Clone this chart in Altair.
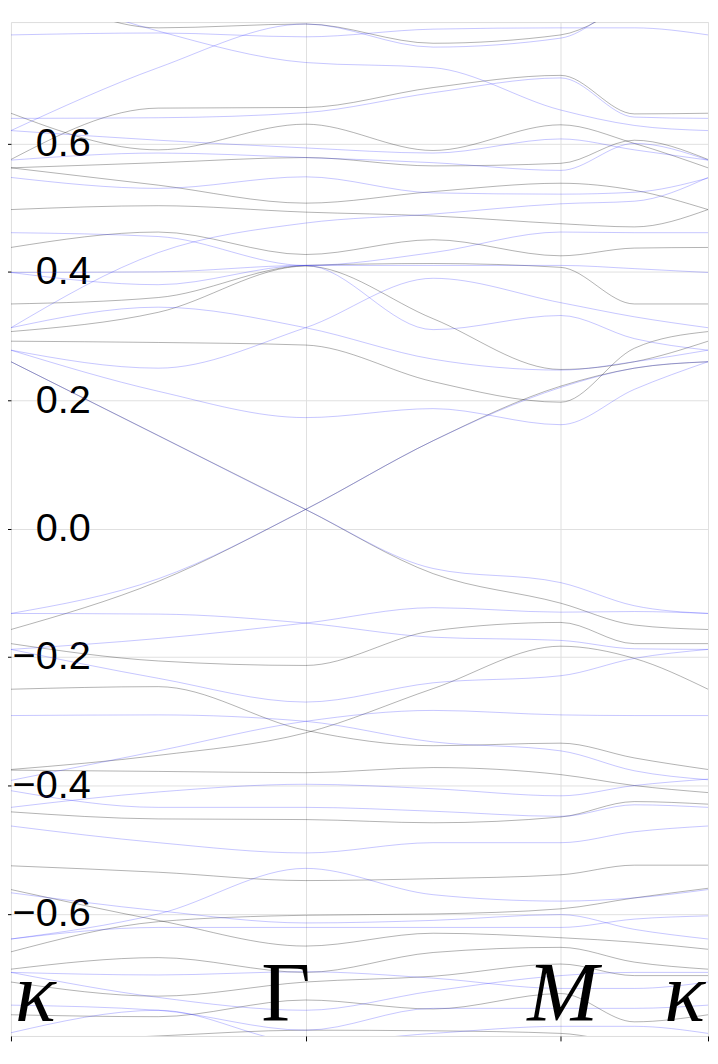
import altair as alt
import pandas as pd

# k-path sample points: kappa, mid(kappa-Gamma), Gamma, mid(Gamma-M), M, mid(M-kappa), kappa
K_PATH = [0.0, 0.5, 1.0, 1.433, 1.866, 2.116, 2.366]

# energies at the K_PATH points
BLACK_BANDS = [
    [0.86, 0.78, 0.786, 0.756, 0.769, 0.82, 0.86],
    [0.575, 0.655, 0.656, 0.687, 0.706, 0.646, 0.647],
    [0.647, 0.59, 0.630, 0.589, 0.629, 0.60, 0.562],
    [0.562, 0.57, 0.578, 0.565, 0.569, 0.605, 0.575],
    [0.562, 0.535, 0.507, 0.525, 0.538, 0.527, 0.497],
    [0.497, 0.503, 0.493, 0.487, 0.475, 0.47, 0.497],
    [0.438, 0.462, 0.427, 0.45, 0.425, 0.437, 0.438],
    [0.350, 0.36, 0.41, 0.413, 0.407, 0.35, 0.350],
    [0.307, 0.337, 0.409, 0.327, 0.248, 0.26, 0.292],
    [0.292, 0.29, 0.286, 0.229, 0.197, 0.281, 0.307],
    [0.260, 0.145, 0.030, -0.07, -0.116, -0.150, -0.157],
    [-0.157, -0.082, 0.030, 0.137, 0.222, 0.25, 0.260],
    [-0.179, -0.206, -0.213, -0.159, -0.146, -0.179, -0.179],
    [-0.250, -0.246, -0.314, -0.338, -0.334, -0.357, -0.375],
    [-0.375, -0.353, -0.318, -0.249, -0.183, -0.202, -0.250],
    [-0.376, -0.378, -0.380, -0.372, -0.383, -0.40, -0.411],
    [-0.441, -0.452, -0.453, -0.458, -0.449, -0.425, -0.429],
    [-0.525, -0.535, -0.548, -0.545, -0.539, -0.524, -0.524],
    [-0.562, -0.610, -0.650, -0.63, -0.637, -0.644, -0.655],
    [-0.659, -0.612, -0.602, -0.60, -0.592, -0.575, -0.560],
    [-0.686, -0.668, -0.691, -0.66, -0.652, -0.675, -0.686],
    [-0.706, -0.728, -0.706, -0.697, -0.678, -0.696, -0.696],
    [-0.757, -0.76, -0.734, -0.748, -0.724, -0.768, -0.757],
    [-0.80, -0.79, -0.781, -0.782, -0.786, -0.80, -0.80],
]

BLUE_BANDS = [
    [0.769, 0.772, 0.766, 0.778, 0.78, 0.78, 0.769],
    [0.85, 0.775, 0.726, 0.718, 0.652, 0.628, 0.620],
    [0.620, 0.718, 0.786, 0.75, 0.764, 0.83, 0.87],
    [0.639, 0.64, 0.648, 0.679, 0.702, 0.641, 0.639],
    [0.620, 0.605, 0.593, 0.585, 0.607, 0.59, 0.574],
    [0.574, 0.585, 0.578, 0.57, 0.558, 0.60, 0.574],
    [0.547, 0.53, 0.548, 0.523, 0.521, 0.524, 0.546],
    [0.313, 0.43, 0.476, 0.49, 0.506, 0.51, 0.547],
    [0.461, 0.455, 0.41, 0.43, 0.462, 0.461, 0.461],
    [0.399, 0.40, 0.41, 0.41, 0.41, 0.405, 0.399],
    [0.399, 0.38, 0.41, 0.31, 0.332, 0.296, 0.278],
    [0.278, 0.25, 0.313, 0.39, 0.352, 0.33, 0.313],
    [0.313, 0.345, 0.313, 0.264, 0.247, 0.26, 0.278],
    [0.278, 0.214, 0.173, 0.187, 0.162, 0.217, 0.260],
    [0.260, 0.145, 0.030, -0.062, -0.084, -0.120, -0.132],
    [-0.132, -0.078, 0.030, 0.137, 0.220, 0.25, 0.260],
    [-0.132, -0.133, -0.147, -0.169, -0.174, -0.187, -0.188],
    [-0.188, -0.171, -0.147, -0.123, -0.130, -0.129, -0.132],
    [-0.188, -0.233, -0.270, -0.240, -0.229, -0.202, -0.188],
    [-0.291, -0.290, -0.300, -0.332, -0.346, -0.377, -0.391],
    [-0.392, -0.346, -0.300, -0.283, -0.290, -0.291, -0.291],
    [-0.408, -0.434, -0.434, -0.44, -0.448, -0.43, -0.434],
    [-0.434, -0.41, -0.398, -0.405, -0.416, -0.40, -0.39],
    [-0.463, -0.489, -0.505, -0.489, -0.489, -0.472, -0.463],
    [-0.567, -0.595, -0.614, -0.61, -0.601, -0.624, -0.639],
    [-0.639, -0.60, -0.529, -0.57, -0.58, -0.575, -0.562],
    [-0.639, -0.621, -0.621, -0.621, -0.621, -0.608, -0.603],
    [-0.691, -0.695, -0.69, -0.70, -0.716, -0.716, -0.706],
    [-0.691, -0.73, -0.750, -0.72, -0.696, -0.691, -0.691],
    [-0.742, -0.75, -0.781, -0.747, -0.747, -0.747, -0.742],
    [-0.785, -0.75, -0.80, -0.786, -0.775, -0.775, -0.786],
]

TICK_K = [0.0, 1.0, 1.866, 2.366]
TICK_LABELS = ["κ", "Γ", "M", "κ"]
Y_TICKS = [-0.6, -0.4, -0.2, 0.0, 0.2, 0.4, 0.6]
K_DOMAIN = [0.0, 2.366]
E_DOMAIN = [-0.790, 0.789]

rows = []
for name, bands in (("black", BLACK_BANDS), ("blue", BLUE_BANDS)):
    for i, band in enumerate(bands):
        for k, e in zip(K_PATH, band):
            rows.append({"k": k, "E": e, "band": f"{name}{i}"})
df = pd.DataFrame(rows)
df_black = df[df["band"].str.startswith("black")]
df_blue = df[df["band"].str.startswith("blue")]

W, H = 704, 1024

xscale = alt.Scale(domain=K_DOMAIN, nice=False, zero=False)
yscale = alt.Scale(domain=E_DOMAIN, nice=False, zero=False)

xaxis = alt.Axis(values=TICK_K, labels=False, title=None, domain=False,
                 tickSize=5, tickColor="#000000", tickWidth=1,
                 grid=True, gridColor="#e0e0e0", gridWidth=1)
yaxis = alt.Axis(values=Y_TICKS, format=".1f", title=None, domain=False,
                 tickSize=4, tickColor="#000000", tickWidth=1,
                 grid=True, gridColor="#e0e0e0", gridWidth=1,
                 labelAlign="right", labelBaseline="middle", labelPadding=-84,
                 labelFont="Liberation Sans", labelFontSize=40, labelColor="#000000")

base_black = alt.Chart(df_black).mark_line(
    interpolate="monotone", stroke="#000000", strokeWidth=0.6, opacity=0.5, clip=True
).encode(
    x=alt.X("k:Q", scale=xscale, axis=xaxis),
    y=alt.Y("E:Q", scale=yscale, axis=yaxis),
    detail="band:N",
)

base_blue = alt.Chart(df_blue).mark_line(
    interpolate="monotone", stroke="#2a2aff", strokeWidth=0.7, opacity=0.38, clip=True
).encode(
    x=alt.X("k:Q", scale=xscale),
    y=alt.Y("E:Q", scale=yscale),
    detail="band:N",
)

labels = pd.DataFrame({"k": TICK_K, "label": TICK_LABELS})


def label_layer(idx, align, dx, style):
    return alt.Chart(labels.iloc[[idx]]).mark_text(
        align=align, baseline="alphabetic", dx=dx,
        font="Liberation Serif", fontSize=86, fontStyle=style, color="#000000"
    ).encode(
        x=alt.X("k:Q", scale=xscale),
        y=alt.value(H - 15),
        text="label:N",
    )


lab0 = label_layer(0, "left", 4, "italic")
lab1 = label_layer(1, "center", -20, "normal")
lab2 = label_layer(2, "center", 2, "italic")
lab3 = label_layer(3, "right", -3, "italic")

chart = alt.layer(base_black, base_blue, lab0, lab1, lab2, lab3).properties(
    width=W, height=H,
    autosize=alt.AutoSizeParams(type="none"),
    padding={"left": 3, "top": 9, "right": 2, "bottom": 12},
).configure_view(
    stroke="#222222", strokeWidth=1.2
).configure(background="white")

chart.save("out.html", embed_options={"renderer": "svg", "actions": False})
